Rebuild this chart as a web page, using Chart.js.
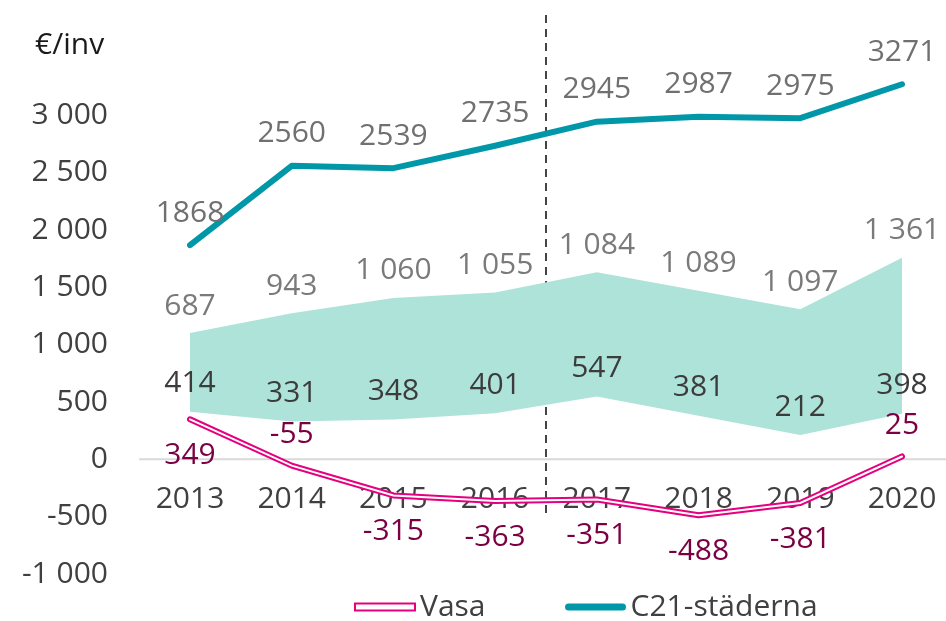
<!DOCTYPE html>
<html>
<head>
<meta charset="utf-8">
<script src="https://cdn.jsdelivr.net/npm/chart.js@4/dist/chart.umd.min.js"></script>
<style>
html, body { margin: 0; background: #fff; }
#wrap { width: 946px; height: 621px; }
</style>
</head>
<body>
<div id="wrap"><canvas id="graf"></canvas></div>
<script>
// Années
const years = ['2013', '2014', '2015', '2016', '2017', '2018', '2019', '2020'];

// Séries (€/inv)
const vasa = [349, -55, -315, -363, -351, -488, -381, 25];
const c21 = [1868, 2560, 2539, 2735, 2945, 2987, 2975, 3271];
const spanLow = [414, 331, 348, 401, 547, 381, 212, 398];     // bas de la bande
const spanWidth = [687, 943, 1060, 1055, 1084, 1089, 1097, 1361]; // épaisseur de la bande

// Graduations de l'axe Y
const yTicks = [-1000, -500, 0, 500, 1000, 1500, 2000, 2500, 3000];

// Côté de l'étiquette Vasa : 1 = sous la ligne, -1 = au-dessus
const vasaLabelSide = [1, -1, 1, 1, 1, 1, 1, -1];

const FONT = '"Open Sans", sans-serif';
const PINK = '#e6007e';
const TEAL = '#0098a9';
const BAND = '#ade3d9';

// "3 000", "-1 000"
function fmt(v) {
  const s = String(Math.abs(v)).replace(/\B(?=(\d{3})+(?!\d))/g, ' ');
  return (v < 0 ? '-' : '') + s;
}

Chart.defaults.font.family = FONT;

const extras = {
  id: 'extras',
  beforeDatasetsDraw(chart) {
    const { ctx, scales: { x, y } } = chart;
    const step = x.getPixelForValue(1) - x.getPixelForValue(0);
    ctx.save();
    // ligne du zéro
    ctx.strokeStyle = '#d9d9d9';
    ctx.lineWidth = 2;
    ctx.beginPath();
    ctx.moveTo(x.getPixelForValue(0) - step / 2, y.getPixelForValue(0));
    ctx.lineTo(chart.width, y.getPixelForValue(0));
    ctx.stroke();
    // séparation 2016 / 2017
    const xm = (x.getPixelForValue(3) + x.getPixelForValue(4)) / 2;
    ctx.strokeStyle = '#444';
    ctx.setLineDash([8, 6]);
    ctx.beginPath();
    ctx.moveTo(xm, 15);
    ctx.lineTo(xm, y.getPixelForValue(-500) + 2);
    ctx.stroke();
    ctx.restore();
  },
  afterDatasetsDraw(chart) {
    const { ctx } = chart;
    ctx.save();
    ctx.font = '30px ' + FONT;
    ctx.textAlign = 'center';
    ctx.textBaseline = 'middle';
    const low = chart.getDatasetMeta(0).data;
    const high = chart.getDatasetMeta(1).data;
    const cc = chart.getDatasetMeta(2).data;
    const vv = chart.getDatasetMeta(3).data;
    years.forEach((yr, i) => {
      ctx.fillStyle = '#3c3c3c';
      ctx.fillText(fmt(spanLow[i]), low[i].x, low[i].y - 28);
      ctx.fillStyle = '#7a7a7a';
      ctx.fillText(fmt(spanWidth[i]), high[i].x, high[i].y - 27);
      ctx.fillStyle = '#707070';
      ctx.fillText(String(c21[i]), cc[i].x, cc[i].y - 32);
      ctx.fillStyle = '#7b0041';
      ctx.fillText(String(vasa[i]), vv[i].x, vv[i].y + vasaLabelSide[i] * (vasaLabelSide[i] > 0 ? 36 : 31));
    });
    ctx.restore();
  },
  afterDraw(chart) {
    const { ctx } = chart;
    ctx.save();
    ctx.font = '30px ' + FONT;
    ctx.textBaseline = 'middle';
    ctx.textAlign = 'left';
    // unité
    ctx.fillStyle = '#1a1a1a';
    ctx.fillText('€/inv', 35, 45);
    // légende
    const ly = 607;
    let lx = 355;
    ctx.lineCap = 'butt';
    ctx.fillStyle = '#fff';
    ctx.strokeStyle = PINK;
    ctx.lineWidth = 2;
    ctx.fillRect(lx, ly - 3.5, 60, 7);
    ctx.strokeRect(lx, ly - 3.5, 60, 7);
    ctx.fillStyle = '#404040';
    ctx.fillText(chart.data.datasets[3].label, lx + 65, ly);
    lx += 65 + ctx.measureText(chart.data.datasets[3].label).width + 80;
    ctx.strokeStyle = TEAL;
    ctx.lineWidth = 7;
    ctx.lineCap = 'round';
    ctx.beginPath();
    ctx.moveTo(lx + 3, ly);
    ctx.lineTo(lx + 57, ly);
    ctx.stroke();
    ctx.fillText(chart.data.datasets[2].label, lx + 65, ly);
    ctx.restore();
  }
};

const data = {
  labels: years,
  datasets: [
    {
      label: 'bas',
      data: spanLow,
      stack: 'band',
      borderWidth: 0,
      pointRadius: 0,
      fill: false,
      order: 0
    },
    {
      label: 'bande',
      data: spanWidth,
      stack: 'band',
      borderWidth: 0,
      pointRadius: 0,
      backgroundColor: BAND,
      fill: 0,
      order: 4
    },
    {
      label: 'C21-städerna',
      data: c21,
      stack: 'c21',
      borderColor: TEAL,
      borderWidth: 6,
      borderCapStyle: 'round',
      borderJoinStyle: 'round',
      pointRadius: 0,
      fill: false,
      order: 3
    },
    {
      label: 'Vasa',
      data: vasa,
      stack: 'vasa',
      borderColor: PINK,
      borderWidth: 6,
      borderCapStyle: 'round',
      borderJoinStyle: 'round',
      pointRadius: 0,
      fill: false,
      order: 2
    },
    {
      label: 'Vasa (intérieur)',
      data: vasa,
      stack: 'vasa2',
      borderColor: '#ffffff',
      borderWidth: 2,
      borderCapStyle: 'round',
      pointRadius: 0,
      fill: false,
      order: 1
    }
  ]
};

const config = {
  type: 'line',
  data: data,
  options: {
    responsive: true,
    maintainAspectRatio: false,
    animation: false,
    layout: { padding: { top: 58, bottom: 47, left: 0, right: 44 } },
    scales: {
      x: {
        type: 'category',
        offset: false,
        position: { y: 0 },
        z: 1,
        grid: { display: false, drawTicks: false },
        border: { display: false },
        afterFit(scale) {
          scale.height = 0;
          scale.paddingLeft = 0;
          scale.paddingRight = 0;
        },
        ticks: {
          autoSkip: false,
          maxRotation: 0,
          padding: 22,
          color: '#404040',
          font: { size: 30 },
          showLabelBackdrop: true,
          backdropColor: 'rgba(255,255,255,0.8)',
          backdropPadding: { x: 4, y: 2 }
        }
      },
      y: {
        stacked: true,
        min: -1000,
        max: 3500,
        grid: { display: false, drawTicks: false },
        border: { display: false },
        afterBuildTicks(scale) {
          scale.ticks = yTicks.map(v => ({ value: v }));
        },
        afterFit(scale) {
          scale.width = 190;
          scale.paddingTop = 0;
          scale.paddingBottom = 0;
        },
        ticks: {
          padding: 82,
          color: '#404040',
          font: { size: 30 },
          callback: v => fmt(v)
        }
      }
    },
    plugins: {
      legend: { display: false },
      tooltip: { enabled: false }
    }
  },
  plugins: [extras]
};

const myChart = new Chart(document.getElementById('graf'), config);
</script>
</body>
</html>
